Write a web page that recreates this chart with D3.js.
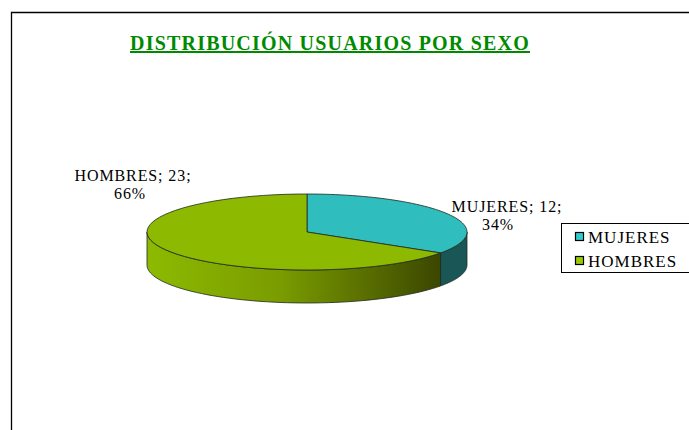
<!DOCTYPE html>
<html>
<head>
<meta charset="UTF-8">
<script src="https://cdn.jsdelivr.net/npm/d3@7"></script>
<style>
  body { margin: 0; background: #fff; }
  #main text { font-family: "Times New Roman", "Liberation Serif", FreeSerif, serif !important; }
</style>
</head>
<body>
<svg id="main" width="689" height="430"></svg>
<script>
    // chart data
    const categories = ['MUJERES', 'HOMBRES'];
    const values = [12, 23];
    const topColors = ['#2fbdbd', '#8dba00'];
    const legendColors = ['#33cccc', '#99cc00'];
    const sideColors = ['#1b5656', null]; // HOMBRES side uses a gradient

    let svg = d3.select('svg#main');

    // frame
    svg.append('path')
        .attr('d', 'M11.5,430 L11.5,12.5 L689,12.5')
        .attr('fill', 'none')
        .attr('stroke', '#000')
        .attr('stroke-width', 1.3);

    // title
    svg.append('text')
        .attr('x', 330).attr('y', 50)
        .attr('text-anchor', 'middle')
        .attr('font-size', 20)
        .attr('font-weight', 'bold')
        .attr('letter-spacing', 1.2)
        .attr('text-decoration', 'underline')
        .attr('fill', '#008a00')
        .text('DISTRIBUCIÓN USUARIOS POR SEXO');

    // 3d pie geometry
    let cx = 307, cy = 232, rx = 160, ry = 38, depth = 33;
    let total = d3.sum(values);
    let pie = d3.pie().sort(null)(values);
    let pct = d3.format('.0%');

    function pt(a, dy) {
        return [cx + rx * Math.sin(a), cy - ry * Math.cos(a) + (dy || 0)];
    }

    function topPath(d) {
        let p = d3.path();
        p.moveTo(cx, cy);
        let n = 60;
        for (let i = 0; i <= n; i++) {
            let a = d.startAngle + (d.endAngle - d.startAngle) * i / n;
            let q = pt(a);
            p.lineTo(q[0], q[1]);
        }
        p.closePath();
        return p.toString();
    }

    function sidePath(d) {
        let a0 = Math.max(d.startAngle, Math.PI / 2);
        let a1 = Math.min(d.endAngle, 3 * Math.PI / 2);
        if (a1 <= a0) return null;
        let p = d3.path();
        let n = 60;
        for (let i = 0; i <= n; i++) {
            let q = pt(a0 + (a1 - a0) * i / n);
            if (i === 0) p.moveTo(q[0], q[1]); else p.lineTo(q[0], q[1]);
        }
        for (let i = n; i >= 0; i--) {
            let q = pt(a0 + (a1 - a0) * i / n, depth);
            p.lineTo(q[0], q[1]);
        }
        p.closePath();
        return p.toString();
    }

    let defs = svg.append('defs');
    let grad = defs.append('linearGradient')
        .attr('id', 'menSide')
        .attr('gradientUnits', 'userSpaceOnUse')
        .attr('x1', cx - rx).attr('x2', cx + rx * 0.85)
        .attr('y1', 0).attr('y2', 0);
    grad.append('stop').attr('offset', '0%').attr('stop-color', '#8dba00');
    grad.append('stop').attr('offset', '45%').attr('stop-color', '#7a9c00');
    grad.append('stop').attr('offset', '100%').attr('stop-color', '#3a4500');

    let g = svg.append('g');

    g.selectAll('path.side')
        .data(pie)
        .enter().append('path')
        .attr('class', 'side')
        .attr('d', sidePath)
        .attr('fill', (d, i) => sideColors[i] || 'url(#menSide)')
        .attr('stroke', '#1e2a1e')
        .attr('stroke-width', 0.8);

    g.selectAll('path.top')
        .data(pie)
        .enter().append('path')
        .attr('class', 'top')
        .attr('d', topPath)
        .attr('fill', (d, i) => topColors[i])
        .attr('stroke', '#1e2a1e')
        .attr('stroke-width', 0.8);

    // data labels: [x line 1, x line 2, baseline]
    let labelPos = [[507, 498, 212], [133, 130, 181]];
    pie.forEach((d, i) => {
        svg.append('text')
            .attr('x', labelPos[i][0]).attr('y', labelPos[i][2])
            .attr('text-anchor', 'middle')
            .attr('font-size', 16)
            .attr('letter-spacing', 0.9)
            .attr('fill', '#000')
            .text(categories[i] + '; ' + values[i] + ';');
        svg.append('text')
            .attr('x', labelPos[i][1]).attr('y', labelPos[i][2] + 18)
            .attr('text-anchor', 'middle')
            .attr('font-size', 16)
            .attr('letter-spacing', 0.9)
            .attr('fill', '#000')
            .text(pct(values[i] / total));
    });

    // legend
    let lx = 561, ly = 223;
    svg.append('rect')
        .attr('x', lx + 0.5).attr('y', ly + 0.5)
        .attr('width', 140).attr('height', 49)
        .attr('fill', '#fff')
        .attr('stroke', '#000')
        .attr('stroke-width', 1);

    let legend = svg.selectAll('.lineLegend').data(categories)
        .enter().append('g')
        .attr('class', 'lineLegend')
        .attr('transform', (d, i) => 'translate(' + (lx + 14) + ',' + (ly + 9 + i * 24) + ')');

    legend.append('rect')
        .attr('x', 0.5).attr('y', 0.5)
        .attr('width', 8).attr('height', 8)
        .attr('fill', (d, i) => legendColors[i])
        .attr('stroke', '#000')
        .attr('stroke-width', 1.2);

    legend.append('text')
        .attr('x', 13).attr('y', 11)
        .attr('font-size', 17)
        .attr('letter-spacing', 1)
        .text(d => d);
</script>
</body>
</html>
